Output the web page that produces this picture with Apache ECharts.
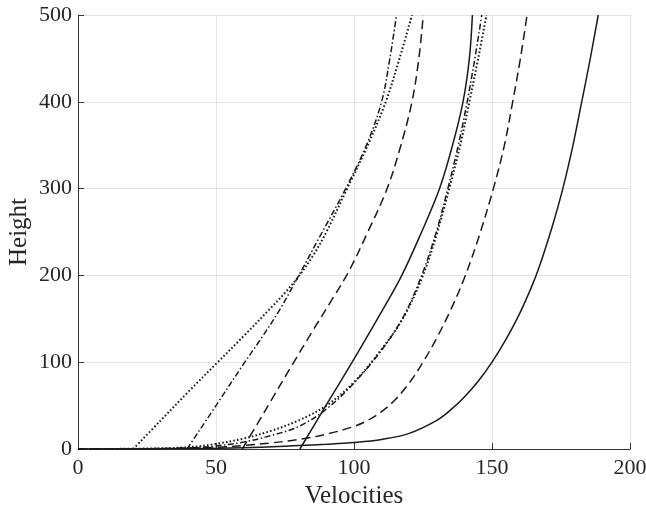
<!DOCTYPE html>
<html>
<head>
<meta charset="utf-8">
<script src="https://cdn.jsdelivr.net/npm/echarts@6/dist/echarts.min.js"></script>
<style>
  html, body { margin: 0; padding: 0; background: #fff; }
  #chart { width: 646px; height: 508px; }
</style>
</head>
<body>
<div id="chart"></div>
<script>
// curves that leave the axis at 20/40/60/80
const dottedA = [[20,0],[30,33],[40,66],[50,98],[60,130],[70,163],[75,180],[80,199],[85,222],[90,250],[97.5,300],[105,350],[111.5,400],[116.5,450],[121,500]];
const dashDotA = [[39.5,0],[50,50],[60,98],[66.5,128],[73,160],[80,200],[88.5,250],[97,300],[104.5,350],[110,400],[113,450],[115.4,500]];
const dashedA = [[59.5,0],[65,29],[70,56],[78,99],[85,136],[92,172],[98,204],[105,250],[112,300],[117,350],[121,400],[123.5,450],[125.1,500]];
const solidA = [[80.4,0],[90,51],[99.5,101],[108.5,150],[117,198],[124.5,250],[131,300],[135.7,350],[139.5,400],[141.8,450],[142.9,500]];

// curves that start at the origin
const dottedB = [[0,0],[20,0.3],[40,2],[50,6],[60,12],[70,21],[80,33],[90,50],[100,77],[110,115],[118,152],[125,200],[130,248],[134.5,300],[138.5,350],[141.8,400],[145,450],[148,500]];
const dashDotB = [[0,0],[20,0.2],[40,1.2],[50,3.5],[60,8],[70,15.5],[80,26],[90,46],[100,76],[110,114],[118,153],[125,204],[130,252],[134,300],[137.8,350],[141,400],[143.8,450],[146.3,500]];
const dashedB = [[0,0],[30,0.5],[50,2],[60,4],[70,7],[80,11],[90,17],[100,26],[105,33],[110,43],[115,57],[120,76],[125,100],[130,128],[135,160],[140,197],[145,242],[150.5,300],[154.5,350],[157.5,400],[160.3,450],[162.7,500]];
const solidB = [[0,0],[40,0.5],[60,1.5],[80,4],[90,5.5],[100,7.5],[110,11],[120,18],[130,33],[135,45],[140,60],[145,78],[150,100],[155,126],[160,156],[165,192],[168,218],[172,258],[175.5,298],[179,345],[182.2,395],[185.5,448],[188.5,500]];

const ink = '#1a1a1a';
const textColor = '#262626';
const font = '"Liberation Serif", "Times New Roman", serif';

const styles = {
  solid: { type: 'solid', width: 1.5 },
  dashed: { type: [9, 5], width: 1.5 },
  dotted: { type: [1.6, 2.2], width: 2 },
  dashDot: { type: [6, 2.5, 1.5, 2.5], width: 1.5 }
};

const mkSeries = (data, kind) => ({
  type: 'line',
  data,
  showSymbol: false,
  symbol: 'none',
  smooth: 0.35,
  animation: false,
  lineStyle: { color: ink, ...styles[kind] }
});

const axisCommon = {
  nameTextStyle: { color: textColor, fontFamily: font, fontSize: 25 },
  nameMoveOverlap: false,
  axisLine: { show: true, onZero: false, lineStyle: { color: '#333', width: 1 } },
  axisTick: { show: true, inside: true, length: 6, lineStyle: { color: '#333' } },
  axisLabel: { color: textColor, fontFamily: font, fontSize: 22 },
  splitLine: { show: true, lineStyle: { color: '#e3e3e3', width: 1 } }
};

const chart = echarts.init(document.getElementById('chart'), null, { renderer: 'canvas' });
chart.setOption({
  backgroundColor: '#fff',
  grid: { left: 78, right: 16, top: 15, bottom: 59, containLabel: false, outerBoundsMode: 'none' },
  xAxis: {
    ...axisCommon,
    type: 'value', min: 0, max: 200, interval: 50,
    name: 'Velocities', nameLocation: 'middle', nameGap: 35,
    axisLabel: { ...axisCommon.axisLabel, margin: 8 }
  },
  yAxis: {
    ...axisCommon,
    type: 'value', min: 0, max: 500, interval: 100,
    name: 'Height', nameLocation: 'middle', nameGap: 46,
    axisLabel: { ...axisCommon.axisLabel, margin: 6 }
  },
  series: [
    mkSeries(dottedA, 'dotted'),
    mkSeries(dashDotA, 'dashDot'),
    mkSeries(dashedA, 'dashed'),
    mkSeries(solidA, 'solid'),
    mkSeries(dottedB, 'dotted'),
    mkSeries(dashDotB, 'dashDot'),
    mkSeries(dashedB, 'dashed'),
    mkSeries(solidB, 'solid')
  ]
});
</script>
</body>
</html>
